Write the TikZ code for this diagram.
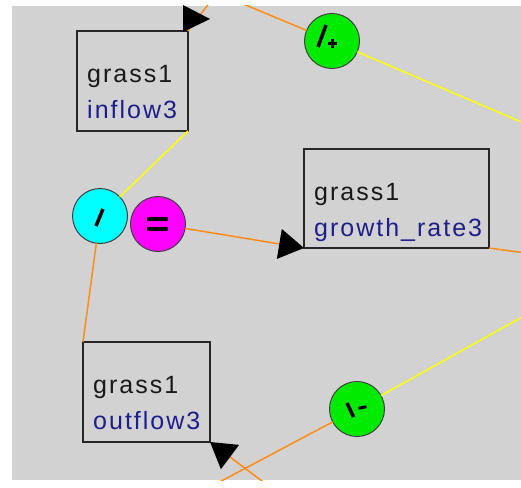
\documentclass[tikz,border=0pt]{standalone}
\usepackage{fontspec}
\setmainfont{Liberation Sans}
\newfontfamily\diagfont[LetterSpace=8]{Liberation Sans}
\usetikzlibrary{calc,arrows.meta}
\definecolor{bggray}{RGB}{210,210,210}
\definecolor{lnorange}{RGB}{255,140,20}
\definecolor{lnyellow}{RGB}{255,255,0}
\definecolor{navytxt}{RGB}{30,30,140}
\definecolor{opgreen}{RGB}{0,235,0}
\definecolor{opcyan}{RGB}{0,255,255}
\definecolor{opmagenta}{RGB}{255,0,255}
\begin{document}
\begin{tikzpicture}[x=1pt,y=-1pt,
  boxst/.style={draw=black!85, line width=2pt, outer sep=0pt, inner sep=0pt, anchor=north west},
  opst/.style={circle, draw=black!75, line width=1pt, minimum size=55pt, inner sep=0pt, outer sep=0pt},
  namest/.style={anchor=base west, inner sep=0pt, font=\diagfont\fontsize{25}{30}\selectfont, text=black!90},
  varst/.style={namest, text=navytxt},
  orng/.style={draw=lnorange, line width=1.5pt},
  yllw/.style={draw=lnyellow, line width=1.5pt},
  tipst/.style={-{Triangle[length=25pt,width=30pt,color=black]}},
  glyph/.style={draw=black, line width=3.5pt}
  ]
\useasboundingbox (0,0) rectangle (521,487);
\fill[white] (0,0) rectangle (521,487);
\fill[bggray] (12,6) rectangle (521,480);
\begin{scope}
\clip (12,6) rectangle (521,480);
% boxes
\node[boxst, minimum width=111pt, minimum height=100pt] (inflowbox) at (77,31) {};
\node[boxst, minimum width=185pt, minimum height=99pt] (growthbox) at (304,149) {};
\node[boxst, minimum width=127pt, minimum height=100pt] (outflowbox) at (83,342) {};
\node[namest] (inflowname) at ($(inflowbox.north west)+(10,51)$) {grass1};
\node[varst] (inflowvar) at ($(inflowbox.north west)+(10,87)$) {inflow3};
\node[namest] (growthname) at ($(growthbox.north west)+(10,51)$) {grass1};
\node[varst] (growthvar) at ($(growthbox.north west)+(10,87)$) {growth\_rate3};
\node[namest] (outflowname) at ($(outflowbox.north west)+(10,51)$) {grass1};
\node[varst] (outflowvar) at ($(outflowbox.north west)+(10,87)$) {outflow3};
% operator circles
\node[opst, fill=opcyan] (div) at (100,216) {};
\node[opst, fill=opmagenta] (eq) at (158,224) {};
\node[opst, fill=opgreen] (plus) at (332,41) {};
\node[opst, fill=opgreen] (minus) at (357,409) {};
% free ends
\coordinate (exitA) at (213,-2);
\coordinate (exitB) at (200,-14);
\coordinate (exitC) at (540,130);
\coordinate (exitD) at (540,255);
\coordinate (exitE) at (270,487);
\coordinate (exitF) at (210,487);
\coordinate (exitG) at (540,307);
% connectors
\draw[orng] (inflowbox.north east) -- (exitA);
\fill[black] (183,5) -- (183,32) -- (210,19) -- cycle;
\draw[orng] (exitB) -- (plus);
\draw[yllw] (plus) -- (exitC);
\draw[yllw] (div) -- (inflowbox.south east);
\draw[orng, tipst] (eq) -- (growthbox.south west);
\draw[orng] (growthbox.south east) -- (exitD);
\draw[orng] (div) -- (outflowbox.north west);
\draw[orng, tipst] (exitE) -- (outflowbox.south east);
\draw[orng] (exitF) -- (minus);
\draw[yllw] (minus) -- (exitG);
% glyphs
\draw[glyph] ($(div)+(3,-7)$) -- ($(div)+(-4,10)$);
\draw[glyph, line width=4pt] ($(eq)+(-11,-5)$) -- ($(eq)+(10,-5)$);
\draw[glyph, line width=4pt] ($(eq)+(-11,5)$) -- ($(eq)+(10,5)$);
\draw[glyph] ($(plus)+(-6,-16)$) -- ($(plus)+(-14,6)$);
\draw[glyph, line width=3pt] ($(plus)+(-4,2.5)$) -- ($(plus)+(5,2.5)$);
\draw[glyph, line width=3pt] ($(plus)+(0.5,-2)$) -- ($(plus)+(0.5,7)$);
\draw[glyph] ($(minus)+(-10,-6)$) -- ($(minus)+(-3.5,8)$);
\draw[glyph, line width=3pt] ($(minus)+(1.5,-0.7)$) -- ($(minus)+(9.5,-2.3)$);
\end{scope}
\end{tikzpicture}
\end{document}
